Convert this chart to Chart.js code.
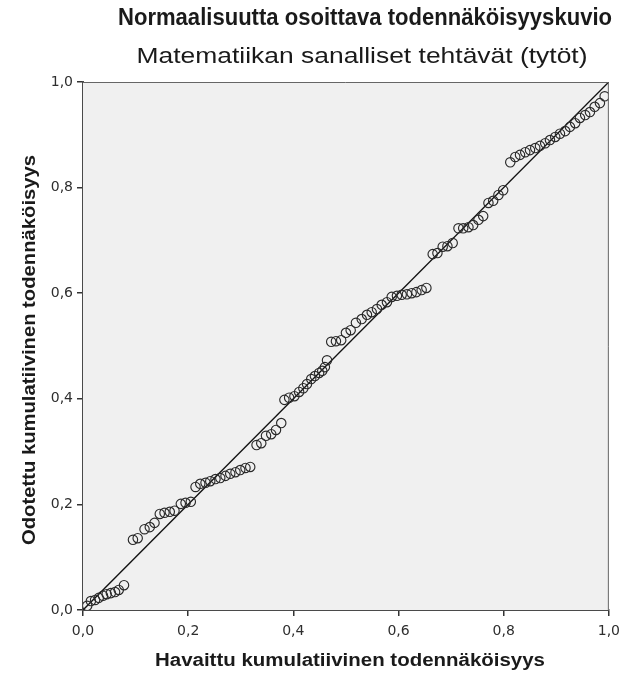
<!DOCTYPE html>
<html>
<head>
<meta charset="utf-8">
<script src="https://cdn.jsdelivr.net/npm/chart.js@4.4.1/dist/chart.umd.min.js"></script>
<style>
  html, body { margin: 0; padding: 0; background: #ffffff; }
  #wrap { width: 627px; height: 677px; position: relative; }
</style>
</head>
<body>
<div id="wrap"><canvas id="c" width="627" height="677"></canvas></div>
<script>
const chartTitle = "Normaalisuutta osoittava todennäköisyyskuvio";
const chartSubtitle = "Matematiikan sanalliset tehtävät (tytöt)";
const xAxisTitle = "Havaittu kumulatiivinen todennäköisyys";
const yAxisTitle = "Odotettu kumulatiivinen todennäköisyys";
const tickValues = [0, 0.2, 0.4, 0.6, 0.8, 1.0];
const tickLabels = ["0,0", "0,2", "0,4", "0,6", "0,8", "1,0"];

// Observed cumulative probability (x)
const observedP = [
  0.008, 0.015, 0.023, 0.030, 0.038, 0.045, 0.053, 0.061, 0.068, 0.078,
  0.095, 0.104, 0.117, 0.127, 0.136, 0.146, 0.155, 0.165, 0.174, 0.186,
  0.195, 0.205, 0.214, 0.223, 0.233, 0.242, 0.252, 0.261, 0.271, 0.280,
  0.290, 0.299, 0.309, 0.318, 0.330, 0.339, 0.348, 0.358, 0.367, 0.377,
  0.383, 0.392, 0.402, 0.411, 0.419, 0.426, 0.434, 0.441, 0.449, 0.455,
  0.460, 0.464, 0.472, 0.481, 0.491, 0.500, 0.509, 0.519, 0.530, 0.540,
  0.549, 0.559, 0.568, 0.578, 0.587, 0.597, 0.606, 0.616, 0.625, 0.634,
  0.644, 0.653, 0.665, 0.674, 0.684, 0.693, 0.703, 0.714, 0.723, 0.733,
  0.742, 0.752, 0.761, 0.771, 0.780, 0.790, 0.799, 0.8125, 0.822, 0.831,
  0.841, 0.850, 0.860, 0.869, 0.879, 0.888, 0.898, 0.907, 0.917, 0.926,
  0.936, 0.945, 0.955, 0.964, 0.973, 0.983, 0.992
];
// Expected cumulative probability (y)
const expectedP = [
  0.008, 0.017, 0.019, 0.023, 0.027, 0.030, 0.032, 0.034, 0.038, 0.047,
  0.133, 0.136, 0.153, 0.157, 0.165, 0.182, 0.184, 0.186, 0.188, 0.201,
  0.203, 0.205, 0.233, 0.239, 0.241, 0.244, 0.248, 0.250, 0.254, 0.258,
  0.261, 0.265, 0.269, 0.271, 0.3125, 0.316, 0.330, 0.333, 0.341, 0.354,
  0.398, 0.402, 0.405, 0.413, 0.420, 0.428, 0.4375, 0.443, 0.449, 0.453,
  0.460, 0.473, 0.508, 0.509, 0.511, 0.525, 0.530, 0.544, 0.551, 0.559,
  0.564, 0.570, 0.578, 0.583, 0.593, 0.595, 0.597, 0.598, 0.600, 0.602,
  0.606, 0.610, 0.674, 0.676, 0.688, 0.689, 0.695, 0.723, 0.723, 0.725,
  0.729, 0.739, 0.746, 0.771, 0.775, 0.786, 0.795, 0.848, 0.858, 0.862,
  0.867, 0.871, 0.875, 0.879, 0.884, 0.890, 0.896, 0.902, 0.907, 0.915,
  0.922, 0.932, 0.9375, 0.943, 0.953, 0.960, 0.973
];
const refLineEnds = [0, 1];

const points = observedP.map((x, i) => ({ x: x, y: expectedP[i] }));
const refLine = refLineEnds.map(v => ({ x: v, y: v }));

function stretchedText(ctx, text, font, cx, cy, targetW, angle) {
  ctx.save();
  ctx.font = font;
  const w = ctx.measureText(text).width;
  ctx.translate(cx, cy);
  if (angle) ctx.rotate(angle);
  ctx.scale(targetW / w, 1);
  ctx.textAlign = 'center';
  ctx.textBaseline = 'middle';
  ctx.fillText(text, 0, 0);
  ctx.restore();
}

const frame = {
  id: 'frame',
  beforeDatasetsDraw(chart) {
    const { ctx, chartArea: a } = chart;
    ctx.save();
    ctx.fillStyle = '#f0f0f0';
    ctx.fillRect(a.left, a.top, a.right - a.left, a.bottom - a.top);
    ctx.restore();
  },
  afterDraw(chart) {
    const { ctx, chartArea: a } = chart;
    ctx.save();
    ctx.strokeStyle = '#666';
    ctx.lineWidth = 1;
    ctx.beginPath();
    ctx.moveTo(a.left, a.top + 0.5);
    ctx.lineTo(a.right - 0.5, a.top + 0.5);
    ctx.lineTo(a.right - 0.5, a.bottom);
    ctx.stroke();
    ctx.fillStyle = '#1a1a1a';
    stretchedText(ctx, chartTitle, 'bold 23px "Liberation Sans", Arial, sans-serif', 365, 19, 494, 0);
    stretchedText(ctx, chartSubtitle, '22px "Liberation Sans", Arial, sans-serif', 362, 57, 451, 0);
    stretchedText(ctx, xAxisTitle, 'bold 18px "Liberation Sans", Arial, sans-serif', 350, 661, 390, 0);
    stretchedText(ctx, yAxisTitle, 'bold 18px "Liberation Sans", Arial, sans-serif', 30, 350, 390, -Math.PI / 2);
    ctx.restore();
  }
};

new Chart(document.getElementById('c'), {
  type: 'scatter',
  data: {
    datasets: [
      {
        type: 'line',
        data: refLine,
        borderColor: '#111',
        borderWidth: 1.4,
        pointRadius: 0,
        fill: false,
        order: 2
      },
      {
        data: points,
        pointStyle: 'circle',
        pointRadius: 4.7,
        backgroundColor: 'rgba(0,0,0,0)',
        borderColor: '#2a2a2a',
        borderWidth: 1.15,
        order: 1
      }
    ]
  },
  options: {
    responsive: false,
    animation: false,
    events: [],
    layout: { padding: { top: 82, right: 16, left: 0, bottom: 0 } },
    plugins: { legend: { display: false }, tooltip: { enabled: false }, title: { display: false } },
    scales: {
      x: {
        type: 'linear', min: 0, max: 1,
        afterBuildTicks: (s) => { s.ticks = tickValues.map(v => ({ value: v })); },
        afterFit: (s) => { s.height = 67; },
        ticks: {
          callback: (v) => tickLabels[tickValues.indexOf(Math.round(v * 10) / 10)],
          color: '#2e2e2e', font: { family: 'DejaVu Sans', size: 14 }, padding: 7, maxRotation: 0
        },
        grid: { drawOnChartArea: false, drawTicks: true, tickLength: 6, color: '#333', lineWidth: 1.5 },
        border: { display: true, color: '#4a4a4a', width: 2 },
        title: { display: false }
      },
      y: {
        type: 'linear', min: 0, max: 1,
        afterBuildTicks: (s) => { s.ticks = tickValues.map(v => ({ value: v })); },
        afterFit: (s) => { s.width = 83; },
        ticks: {
          callback: (v) => tickLabels[tickValues.indexOf(Math.round(v * 10) / 10)],
          color: '#2e2e2e', font: { family: 'DejaVu Sans', size: 14 }, padding: 4
        },
        grid: { drawOnChartArea: false, drawTicks: true, tickLength: 6, color: '#333', lineWidth: 1.5 },
        border: { display: true, color: '#4a4a4a', width: 2 },
        title: { display: false }
      }
    }
  },
  plugins: [frame]
});
</script>
</body>
</html>
